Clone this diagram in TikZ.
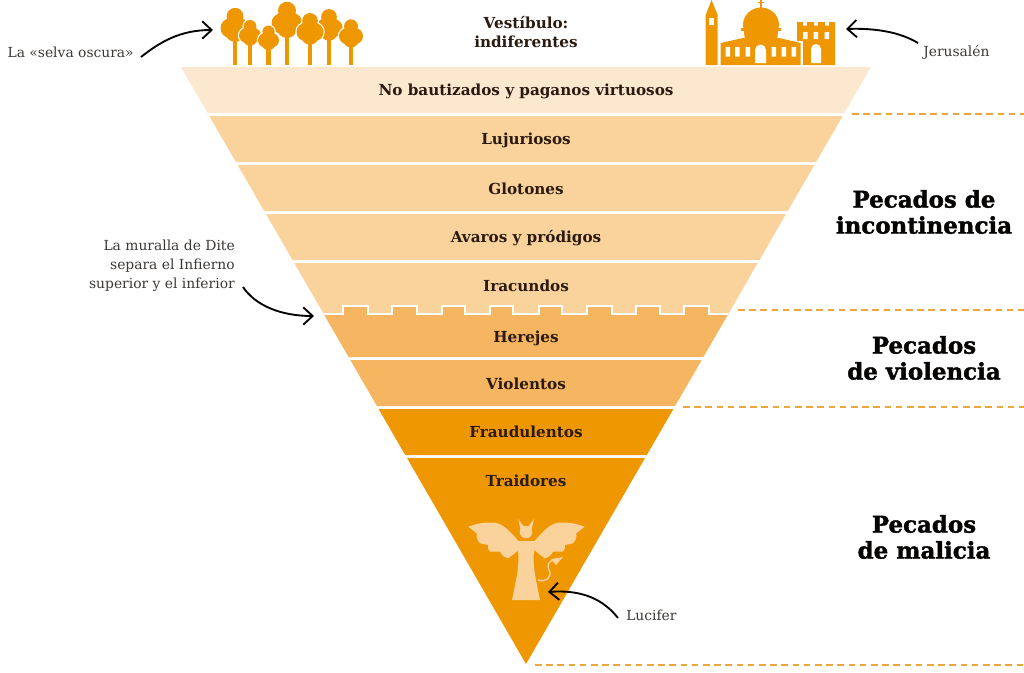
\documentclass[tikz,border=0pt]{standalone}
\usepackage{fontspec}
\setmainfont{DejaVu Serif}
\newfontfamily\sinfont[BoldFeatures={FakeBold=1.6}]{DejaVu Serif}
\usepackage{xcolor}
\usetikzlibrary{arrows.meta, positioning}
\definecolor{circleone}{HTML}{FCE8CF}
\definecolor{circletwo}{HTML}{FAD39C}
\definecolor{circlethree}{HTML}{F5B561}
\definecolor{circlefour}{HTML}{EF9700}
\definecolor{inkdark}{HTML}{2A1A10}
\definecolor{inkgrey}{HTML}{3C3835}
\definecolor{dashline}{HTML}{EBA63C}
\definecolor{devilskin}{HTML}{FAD39C}

% one tree: trunk x, trunk top y, crown centre y, crown half width
\newcommand{\treeshape}[4]{
\fill[white] (#1,#3-#4*.6) circle (#4*.58+1.2) (#1-#4*.32,#3+#4*.22) circle (#4*.68+1.2) (#1+#4*.32,#3+#4*.22) circle (#4*.68+1.2) (#1,#3+#4*.5) circle (#4*.66+1.2);
\fill[circlefour] (#1-2.2,#2) rectangle (#1+2.2,65);
\fill[circlefour] (#1,#3-#4*.6) circle (#4*.58) (#1-#4*.32,#3+#4*.22) circle (#4*.68) (#1+#4*.32,#3+#4*.22) circle (#4*.68) (#1,#3+#4*.5) circle (#4*.66);
}

\begin{document}
\begin{tikzpicture}[x=0.75pt,y=-0.75pt,
circlelabel/.style={font=\fontsize{11.4pt}{14.3pt}\bfseries\selectfont, text=inkdark, inner sep=0pt, align=center},
sinlabel/.style={font=\sinfont\fontsize{17.2pt}{19.5pt}\bfseries\selectfont, text=black!90!inkdark, inner sep=0pt, align=center},
notelabel/.style={font=\fontsize{10.4pt}{14.2pt}\selectfont, text=inkgrey, inner sep=0pt},
pointer/.style={draw=black!90!inkdark, line width=1.4pt, -{Straight Barb[length=7pt,width=13pt]}},
sindash/.style={draw=dashline, line width=1.6pt, dash pattern=on 5pt off 3.4pt},
]
\useasboundingbox (0,0) rectangle (1024,672);

%Circles
\fill[circleone] (181,67) -- (871,67) -- (844.4,113) -- (207.6,113) -- cycle;
\fill[circletwo] (209.3,116) -- (842.7,116) -- (816.1,162) -- (235.9,162) -- cycle;
\fill[circletwo] (237.6,165) -- (814.4,165) -- (787.8,211) -- (264.2,211) -- cycle;
\fill[circletwo] (266,214) -- (786,214) -- (759.5,260) -- (292.5,260) -- cycle;
\fill[circletwo] (294.3,263) -- (757.7,263) -- (728.3,314) -- (323.7,314) -- cycle;
\fill[circlethree] (323.7,314) -- (343,314) -- (343,306) -- (368,306) -- (368,314) -- (392,314) -- (392,306) -- (417,306) -- (417,314) -- (442,314) -- (442,306) -- (465,306) -- (465,314) -- (490,314) -- (490,306) -- (513,306) -- (513,314) -- (539,314) -- (539,306) -- (562,306) -- (562,314) -- (587,314) -- (587,306) -- (612,306) -- (612,314) -- (636,314) -- (636,306) -- (660,306) -- (660,314) -- (684,314) -- (684,306) -- (709,306) -- (709,314) -- (728.3,314) -- (703.4,357) -- (348.6,357) -- cycle;
\fill[circlethree] (350.3,360) -- (701.7,360) -- (675.1,406) -- (376.9,406) -- cycle;
\fill[circlefour] (378.6,409) -- (673.4,409) -- (646.8,455) -- (405.2,455) -- cycle;
\fill[circlefour] (407,458) -- (645,458) -- (526,664) -- cycle;
\draw[white, line width=1.3pt] (323.7,314) -- (343,314) -- (343,306) -- (368,306) -- (368,314) -- (392,314) -- (392,306) -- (417,306) -- (417,314) -- (442,314) -- (442,306) -- (465,306) -- (465,314) -- (490,314) -- (490,306) -- (513,306) -- (513,314) -- (539,314) -- (539,306) -- (562,306) -- (562,314) -- (587,314) -- (587,306) -- (612,306) -- (612,314) -- (636,314) -- (636,306) -- (660,306) -- (660,314) -- (684,314) -- (684,306) -- (709,306) -- (709,314) -- (728.3,314);

%Forest
\treeshape{235}{38}{25}{14.5}
\treeshape{287}{36}{20}{15.5}
\treeshape{329}{38}{25}{13.5}
\treeshape{250}{44}{33}{11}
\treeshape{268.5}{46}{38}{10.5}
\treeshape{310}{42}{29}{13.5}
\treeshape{351}{44}{33.5}{12}

%Jerusalem
\fill[circlefour] (705.7,65) -- (705.7,15) -- (711.5,0) -- (717.7,15) -- (717.7,65) -- cycle;
\fill[white] (709.2,18) rectangle (713.6,25);
\fill[circlefour] (720.7,65) -- (720.7,43) -- (743,38) -- (779,38) -- (800.7,43) -- (800.7,65) -- cycle;
\fill[circlefour] (745,40) -- (743,25) arc (180:360:18 and 17.5) -- (777,40) -- cycle;
\fill[circlefour] (741,28) rectangle (781,31);
\draw[circlefour, line width=1.2pt] (761,0) -- (761,8) (758,2.5) -- (764,2.5);
\fill[white] (725.5,47) rectangle (730,56.5) (735,47) rectangle (739.5,56.5) (745.5,47) rectangle (750,56.5) (771.5,47) rectangle (776,56.5) (781.5,47) rectangle (786,56.5) (791.5,47) rectangle (796,56.5);
\fill[white] (755,63) -- (755,50) arc (180:360:5.5) -- (766,63) -- cycle;
\fill[circlefour] (803,65) -- (803,41) -- (797,41) -- (797,22) -- (803,22) -- (803,25.5) -- (807,25.5) -- (807,22) -- (814,22) -- (814,25.5) -- (818,25.5) -- (818,22) -- (825,22) -- (825,25.5) -- (829,25.5) -- (829,22) -- (835,22) -- (835,65) -- cycle;
\fill[white] (803,32) rectangle (807.5,39) (813.7,32) rectangle (818.2,39) (824.7,32) rectangle (829.2,39);
\fill[white] (811,63) -- (811,49) arc (180:360:5) -- (821,63) -- cycle;

%Lucifer
\fill[devilskin] (512,600) .. controls (516,580) and (518.5,570) .. (518.5,557) -- (517.5,541) -- (535,541) -- (533.5,557) .. controls (533.5,570) and (536,580) .. (540,600) -- cycle;
\fill[devilskin] (526,532) circle (6.3);
\fill[devilskin] (520.5,530) -- (518.3,519) -- (524,526.7) -- (528,526.7) -- (534,519) -- (531.5,530) -- cycle;
\fill[devilskin] (468.3,526.7) .. controls (478,523) and (487,522) .. (495,522.7) .. controls (503,524) and (510,531) .. (519,541.7) -- (519,550) -- (508.3,558.3) to[bend left=25] (500,551.7) -- (490,551.7) to[bend left=25] (488,545) -- (480,543.3) to[bend left=25] (476.7,533.3) -- cycle;
\fill[devilskin] (584.7,526.7) .. controls (575,523) and (566,522) .. (558,522.7) .. controls (550,524) and (543,531) .. (534,541.7) -- (534,550) -- (544.7,558.3) to[bend right=25] (553,551.7) -- (563,551.7) to[bend right=25] (565,545) -- (573,543.3) to[bend right=25] (576.3,533.3) -- cycle;
\draw[devilskin, line width=1pt] (538,580) .. controls (546,583) and (553,576) .. (549,570) .. controls (547,566) and (548,561) .. (554,560);
\fill[devilskin] (551,559) -- (563,557) -- (556,565) -- cycle;

%Nodes
\node[circlelabel] at (526,32) (vestibule) {Vestíbulo:\\indiferentes};
\node[circlelabel] at (526,91) (pagans) {No bautizados y paganos virtuosos};
\node[circlelabel] at (526,140) (lustful) {Lujuriosos};
\node[circlelabel] at (526,189) (gluttons) {Glotones};
\node[circlelabel] at (526,238) (misers) {Avaros y pródigos};
\node[circlelabel] at (526,286) (wrathful) {Iracundos};
\node[circlelabel] at (526,338) (heretics) {Herejes};
\node[circlelabel] at (526,384) (violent) {Violentos};
\node[circlelabel] at (526,432) (fraud) {Fraudulentos};
\node[circlelabel] at (526,481) (traitors) {Traidores};

\node[sinlabel] at (924,212) (incontinence) {Pecados de\\incontinencia};
\node[sinlabel] at (924,358) (violence) {Pecados\\de violencia};
\node[sinlabel] at (924,537) (malice) {Pecados\\de malicia};

\node[notelabel, anchor=east] at (134,52.5) (forestnote) {La «selva oscura»};
\node[notelabel, anchor=west] at (923,52.5) (jerusalemnote) {Jerusalén};
\node[notelabel, anchor=east, align=right] at (235,265.5) (wallnote) {La muralla de Dite\\separa el Infierno\\superior y el inferior};
\node[notelabel, anchor=west] at (626,615) (lucifernote) {Lucifer};

\coordinate (foreststart) at (141,57);
\coordinate (forestend) at (213,30);
\coordinate (jerusalemstart) at (918,43);
\coordinate (jerusalemend) at (846,29);
\coordinate (wallstart) at (243,287);
\coordinate (wallend) at (314,316);
\coordinate (luciferstart) at (618,618);
\coordinate (luciferend) at (548,592);

\coordinate (dashone) at (852,114);
\coordinate (dashonend) at (1024,114);
\coordinate (dashtwo) at (738,310);
\coordinate (dashtwoend) at (1024,310);
\coordinate (dashthree) at (683,407);
\coordinate (dashthreeend) at (1024,407);
\coordinate (dashfour) at (535,665);
\coordinate (dashfourend) at (1024,665);

%Lines
\draw[pointer] (foreststart) .. controls (160,42) and (180,30) .. (forestend);
\draw[pointer] (jerusalemstart) .. controls (900,32) and (875,28) .. (jerusalemend);
\draw[pointer] (wallstart) .. controls (255,305) and (280,316) .. (wallend);
\draw[pointer] (luciferstart) .. controls (600,595) and (575,590) .. (luciferend);

\draw[sindash] (dashone) -- (dashonend);
\draw[sindash] (dashtwo) -- (dashtwoend);
\draw[sindash] (dashthree) -- (dashthreeend);
\draw[sindash] (dashfour) -- (dashfourend);

\end{tikzpicture}
\end{document}
